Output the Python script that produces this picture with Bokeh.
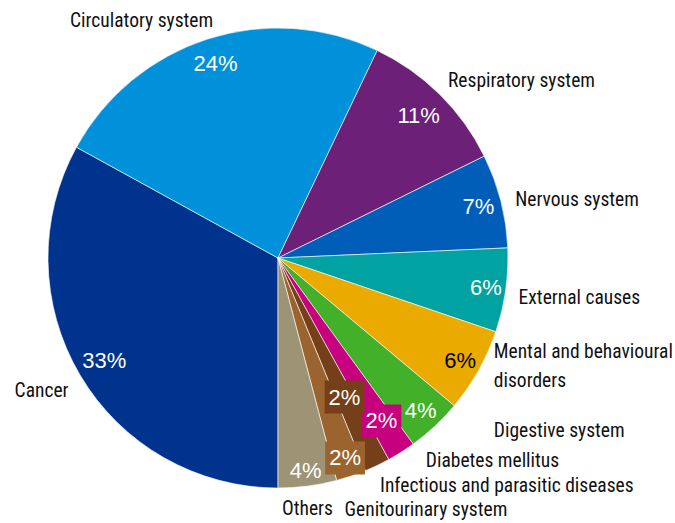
import math
from bokeh.plotting import figure
from bokeh.models import ColumnDataSource, Range1d
from bokeh.core.properties import value
from bokeh.embed import file_html
from bokeh.resources import INLINE

# ---- data ----
categories = ["Cancer", "Circulatory system", "Respiratory system", "Nervous system",
              "External causes", "Mental and behavioural\ndisorders", "Digestive system",
              "Diabetes mellitus", "Infectious and parasitic diseases",
              "Genitourinary system", "Others"]
shares = [33.0, 24.1, 10.6, 6.6, 5.9, 5.9, 3.9, 2.0, 1.8, 2.1, 4.1]
pct_labels = ["33%", "24%", "11%", "7%", "6%", "6%", "4%", "2%", "2%", "2%", "4%"]
colors = ["#00338D", "#0091DA", "#6D2077", "#005EB8", "#00A3A1", "#EAAA00",
          "#43B02A", "#C6007E", "#753F19", "#9B642E", "#9D9375"]

# ---- layout / style ----
W, H = 675, 523
CX, CY, R = 277.5, H - 257.5, 230.0
pct_colors = ["white", "white", "white", "white", "white", "black",
              "white", "white", "white", "white", "white"]
pct_boxed = [False, False, False, False, False, False, False, True, True, True, False]
pct_rfrac = [0.877, 0.887, 0.87, 0.90, 0.913, 0.909, 0.909, 0.839, 0.67, 0.917, 0.933]
# outer label offsets from the slice's outer-edge midpoint (px, right / down)
lab_dx = [-11.5, -137.6, 8.4, 14.5, 12.9, 15.3, 58.9, 24.6, 2.8, -6.6, -25.5]
lab_dy = [15.4, -18.4, -13.6, -1.0, 6.7, -4.8, 4.0, 8.1, 20.2, 33.8, 22.5]
lab_align = ["right"] + ["left"] * 10

total = sum(shares)
starts, ends, mids = [], [], []
a = 270.0
for s in shares:
    span = s / total * 360.0
    starts.append(math.radians(a))
    ends.append(math.radians(a - span))
    mids.append(math.radians(a - span / 2))
    a -= span

p = figure(width=W, height=H, x_range=Range1d(0, W), y_range=Range1d(0, H),
           x_axis_type=None, y_axis_type=None, toolbar_location=None,
           output_backend="svg", min_border=0, outline_line_color=None,
           background_fill_color="white", border_fill_color="white")
p.grid.visible = False

wsrc = ColumnDataSource(dict(start=starts, end=ends, color=colors))
p.wedge(x=CX, y=CY, radius=R, start_angle="start", end_angle="end", direction="clock",
        fill_color="color", line_color="white", line_width=0.6, source=wsrc)

# percentage labels
px, py, pt, pc, bx, by, bt, bc = [], [], [], [], [], [], [], []
for i, m in enumerate(mids):
    x = CX + R * pct_rfrac[i] * math.cos(m)
    y = CY + R * pct_rfrac[i] * math.sin(m)
    if pct_boxed[i]:
        bx.append(x); by.append(y); bt.append(pct_labels[i]); bc.append(colors[i])
    else:
        px.append(x); py.append(y); pt.append(pct_labels[i]); pc.append(pct_colors[i])

p.text(x="x", y="y", text="t", text_color="c",
       source=ColumnDataSource(dict(x=px, y=py, t=pt, c=pc)),
       text_font=value("Liberation Sans"), text_font_size="22px",
       text_align="center", text_baseline="middle")
p.text(x="x", y="y", text="t", background_fill_color="c",
       source=ColumnDataSource(dict(x=bx, y=by, t=bt, c=bc)),
       text_color="white", padding=4,
       text_font=value("Liberation Sans"), text_font_size="22px",
       text_align="center", text_baseline="middle")

# category labels
lx, ly = [], []
for i, m in enumerate(mids):
    ex = CX + R * math.cos(m)
    ey = CY + R * math.sin(m)
    lx.append(ex + lab_dx[i])
    ly.append(ey - lab_dy[i])
p.text(x="x", y="y", text="t", text_align="a",
       source=ColumnDataSource(dict(x=lx, y=ly, t=categories, a=lab_align)),
       text_color="#111111",
       text_font=value("'Roboto Condensed', 'DejaVu Sans Condensed', Roboto"),
       text_font_size="19.5px", text_baseline="middle", text_line_height=1.23)

open("out.html", "w").write(file_html(p, INLINE))
